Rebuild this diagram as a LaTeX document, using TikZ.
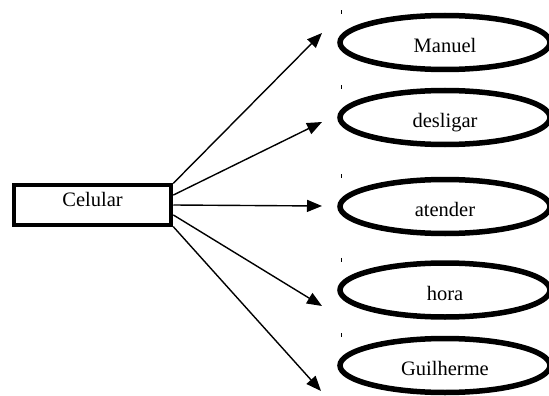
\documentclass[tikz,border=0pt]{standalone}
\usepackage{fontspec}
\setmainfont{Liberation Serif}
\usetikzlibrary{shapes.geometric,arrows.meta}

\begin{document}
\begin{tikzpicture}[x=1pt,y=-1pt,font=\fontsize{20.5}{24}\selectfont,
    obj/.style={draw,line width=4.5pt,minimum width=157pt,minimum height=40pt,inner sep=0pt,text height=14pt,text depth=11pt},
    msg/.style={draw,ellipse,line width=5.5pt,minimum width=210pt,minimum height=54pt,inner sep=0pt,text height=20pt,text depth=0pt},
    send/.style={-{Triangle[length=15pt,width=12pt]},line width=1.4pt,draw},
    tick/.style={line width=0.7pt}]
    \useasboundingbox (0,0) rectangle (549,396);

    \node[obj] (cel) at (92.5,205) {Celular};

    \node[msg] (manuel) at (445,42.5) {Manuel};
    \node[msg] (desligar) at (445,117.5) {desligar};
    \node[msg] (atender) at (445,206.5) {atender};
    \node[msg] (hora) at (445,290) {hora};
    \node[msg] (guilherme) at (445,365.5) {Guilherme};

    \coordinate (tManuel) at (322,33);
    \coordinate (tDesligar) at (322,122);
    \coordinate (tAtender) at (322,206);
    \coordinate (tHora) at (322,306);
    \coordinate (tGuilherme) at (321,391);

    \path[send] (cel.15) -- (tManuel);
    \path[send] (cel.7) -- (tDesligar);
    \path[send] (cel.0) -- (tAtender);
    \path[send] (cel.-7) -- (tHora);
    \path[send] (cel.-15) -- (tGuilherme);

    \foreach \m in {manuel,desligar,atender,hora,guilherme}
      \draw[tick] ([xshift=4pt,yshift=2.5pt]\m.west |- \m.north) -- ++(0,4);
  \end{tikzpicture}
\end{document}
